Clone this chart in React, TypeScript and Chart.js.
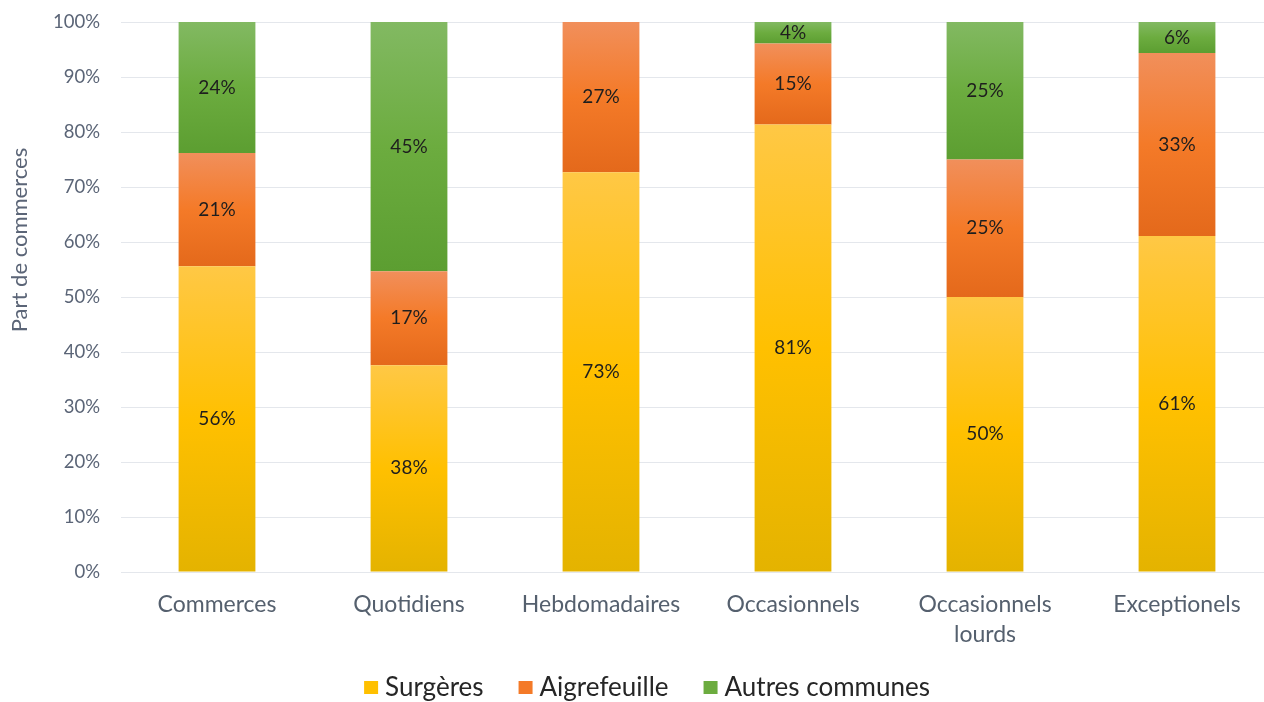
import React, { useEffect, useRef } from "react";
import { Chart, registerables } from "chart.js";

Chart.register(...registerables);

const categories: (string | string[])[] = [
  "Commerces",
  "Quotidiens",
  "Hebdomadaires",
  "Occasionnels",
  ["Occasionnels", "lourds"],
  "Exceptionels",
];
const surgeres = [55.6, 37.6, 72.7, 81.4, 50.0, 61.1];
const aigrefeuille = [20.6, 17.1, 27.3, 14.7, 25.0, 33.3];
const autres = [23.8, 45.3, 0, 3.9, 25.0, 5.6];
const seriesNames = ["Surgères", "Aigrefeuille", "Autres communes"];
const yTicks = [0, 10, 20, 30, 40, 50, 60, 70, 80, 90, 100];
const axisTitle = "Part de commerces";

const FONT = "Lato, 'Open Sans', sans-serif";
const GRAD = [
  ["#FFC845", "#FFC000", "#E4B300"],
  ["#F18F5B", "#F47A28", "#E4691B"],
  ["#82B962", "#6CAC3F", "#5C9E31"],
];
const LEGEND_COLORS = ["#FFC000", "#F47A28", "#6CAC3F"];

const allSeries = [surgeres, aigrefeuille, autres];

// canvas is shifted up by 10px on the page: page y = canvas y - 10
const Y_SHIFT = 10;

function segmentGradient(ctx: any, si: number) {
  const chart = ctx.chart;
  const y = chart.scales?.y;
  if (!y || ctx.dataIndex === undefined) return GRAD[si][1];
  let start = 0;
  for (let k = 0; k < si; k++) start += allSeries[k][ctx.dataIndex];
  const end = start + allSeries[si][ctx.dataIndex];
  const top = y.getPixelForValue(end);
  const bottom = y.getPixelForValue(start);
  if (!isFinite(top) || !isFinite(bottom) || top === bottom) return GRAD[si][1];
  const g = chart.ctx.createLinearGradient(0, top, 0, bottom);
  g.addColorStop(0, GRAD[si][0]);
  g.addColorStop(0.5, GRAD[si][1]);
  g.addColorStop(1, GRAD[si][2]);
  return g;
}

const labelPlugin = {
  id: "segLabels",
  afterDatasetsDraw(chart: any) {
    const ctx = chart.ctx;
    ctx.save();
    ctx.font = `19px ${FONT}`;
    ctx.fillStyle = "#1E1E1E";
    ctx.textAlign = "center";
    ctx.textBaseline = "middle";
    chart.data.datasets.forEach((ds: any, di: number) => {
      const meta = chart.getDatasetMeta(di);
      meta.data.forEach((el: any, i: number) => {
        const v = ds.data[i];
        if (!v) return;
        const cy = (el.y + el.base) / 2;
        ctx.fillText(Math.round(v) + "%", el.x, cy);
      });
    });
    ctx.restore();
  },
};

const titlePlugin = {
  id: "yTitle",
  afterDraw(chart: any) {
    const ctx = chart.ctx;
    ctx.save();
    ctx.translate(20, 240 + Y_SHIFT);
    ctx.rotate(-Math.PI / 2);
    ctx.font = `22px ${FONT}`;
    ctx.fillStyle = "#5B6577";
    ctx.textAlign = "center";
    ctx.textBaseline = "middle";
    ctx.fillText(axisTitle, 0, 0);
    ctx.restore();
  },
};

const legendPlugin = {
  id: "bottomLegend",
  afterDraw(chart: any) {
    const ctx = chart.ctx;
    ctx.save();
    ctx.font = `26px ${FONT}`;
    ctx.textBaseline = "middle";
    ctx.textAlign = "left";
    const boxW = 14;
    const textGap = 21;
    const itemGap = 35;
    const widths = seriesNames.map((n) => ctx.measureText(n).width);
    const total =
      widths.reduce((a, w) => a + textGap + w, 0) + itemGap * (seriesNames.length - 1);
    let x = 647 - total / 2;
    const cy = 688 + Y_SHIFT;
    seriesNames.forEach((n, i) => {
      ctx.fillStyle = LEGEND_COLORS[i];
      ctx.fillRect(x, cy - 7, boxW, 13);
      ctx.fillStyle = "#262626";
      ctx.fillText(n, x + textGap, cy);
      x += textGap + widths[i] + itemGap;
    });
    ctx.restore();
  },
};

export default function App() {
  const ref = useRef<HTMLCanvasElement>(null);
  useEffect(() => {
    if (!ref.current) return;
    const chart = new Chart(ref.current, {
      type: "bar",
      data: {
        labels: categories as any,
        datasets: allSeries.map((s, si) => ({
          label: seriesNames[si],
          data: s,
          backgroundColor: (c: any) => segmentGradient(c, si),
          borderWidth: 0,
          barPercentage: 0.4,
          categoryPercentage: 1.0,
        })),
      },
      options: {
        responsive: false,
        animation: false,
        layout: { padding: { top: 13, right: 1, bottom: 0, left: 0 } },
        scales: {
          x: {
            stacked: true,
            grid: { display: false },
            border: { display: false },
            ticks: {
              color: "#55606E",
              font: { family: FONT, size: 23, lineHeight: 1.3 },
              padding: 10,
              maxRotation: 0,
            },
            afterFit: (s: any) => {
              s.height = 130;
            },
          },
          y: {
            stacked: true,
            min: 0,
            max: 100,
            afterBuildTicks: (s: any) => {
              s.ticks = yTicks.map((v) => ({ value: v }));
            },
            grid: { color: "#E4E7EC", lineWidth: 1, drawTicks: false },
            border: { display: false },
            ticks: {
              color: "#5B6577",
              font: { family: FONT, size: 18.5 },
              padding: 21,
              callback: (v: any) => v + "%",
            },
            afterFit: (s: any) => {
              s.width = 121;
            },
          },
        },
        plugins: {
          legend: { display: false },
          tooltip: { enabled: false },
        },
      },
      plugins: [labelPlugin, titlePlugin, legendPlugin],
    });
    return () => chart.destroy();
  }, []);
  return (
    <div
      style={{
        position: "fixed",
        left: 0,
        top: 0,
        width: 1264,
        height: 702,
        overflow: "hidden",
        background: "#fff",
      }}
    >
      <canvas
        ref={ref}
        width={1274}
        height={712}
        style={{ position: "absolute", left: 0, top: -Y_SHIFT, width: 1274, height: 712, display: "block" }}
      />
    </div>
  );
}
